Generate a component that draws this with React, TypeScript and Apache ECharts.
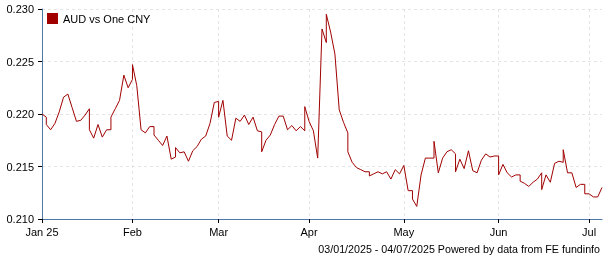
import React, { useEffect, useRef } from "react";
import * as echarts from "echarts";

// Weekly trading days from 03/01/2025 to 04/07/2025
const START_DATE = "2025-01-03";
const END_DATE = "2025-07-04";

// Month tick labels (first trading day of each month)
const monthLabels = ["Jan 25", "Feb", "Mar", "Apr", "May", "Jun", "Jul"];

// AUD vs One CNY, one entry per trading day; a pair = two readings on the same day
const ratesJan: (number | number[])[] = [
  0.2200, [0.2197, 0.2190], 0.2185, 0.2191, 0.2202, 0.2216, 0.2219, 0.2206, 0.2193, 0.2194,
  0.2199, [0.2205, 0.2185], 0.2177, 0.2190, 0.2178, 0.2185, [0.2185, 0.2197], 0.2205, 0.2213, 0.2237,
  0.2225,
];
const ratesFeb: (number | number[])[] = [
  [0.2233, 0.2247], 0.2227, 0.2185, 0.2182, 0.2188, [0.2188, 0.2180], 0.2175, 0.2170, 0.2179, 0.2157,
  [0.2159, 0.2168], 0.2163, 0.2164, 0.2155, 0.2165, 0.2169, 0.2176, 0.2179, 0.2191, 0.2211,
];
const ratesMar: (number | number[])[] = [
  [0.2212, 0.2197], 0.2213, 0.2179, 0.2175, 0.2196, 0.2193, 0.2199, 0.2190, 0.2197, 0.2184,
  [0.2183, 0.2164], 0.2175, 0.2180, 0.2190, 0.2198, 0.2198, 0.2185, 0.2189, 0.2184, 0.2188,
  [0.2184, 0.2207],
];
const ratesApr: (number | number[])[] = [
  0.2193, 0.2184, 0.2158, 0.2281, [0.2268, 0.2295], 0.2278, 0.2257, 0.2204, 0.2192, [0.2182, 0.2164],
  0.2154, 0.2149, 0.2147, 0.2145, [0.2145, 0.2141], 0.2143, 0.2145, 0.2143, 0.2145, 0.2138,
  0.2147, 0.2143,
];
const ratesMay: (number | number[])[] = [
  0.2151, 0.2127, [0.2127, 0.2119], 0.2112, 0.2142, 0.2158, 0.2158, [0.2158, 0.2174], 0.2144, 0.2158,
  0.2164, 0.2166, [0.2162, 0.2145], 0.2157, 0.2148, 0.2165, 0.2146, 0.2144, 0.2156, 0.2162,
  0.2159, 0.2160,
];
const ratesJun: (number | number[])[] = [
  [0.2160, 0.2142], 0.2152, 0.2144, 0.2140, 0.2142, [0.2142, 0.2136], 0.2134, 0.2131, 0.2135, 0.2138,
  [0.2144, 0.2128], 0.2142, 0.2135, 0.2153, 0.2155, [0.2154, 0.2166], 0.2144, 0.2144, 0.2130, 0.2133,
  [0.2133, 0.2124],
];
const ratesJul: (number | number[])[] = [0.2124, 0.2121, 0.2121, 0.2130];

const yTicks = { min: 0.21, max: 0.23, interval: 0.005 };

const footerText = "03/01/2025 - 04/07/2025 Powered by data from FE fundinfo";
const seriesName = "AUD vs One CNY";

function tradingDays(start: string, end: string): string[] {
  const out: string[] = [];
  const d = new Date(start + "T00:00:00Z");
  const e = new Date(end + "T00:00:00Z");
  while (d.getTime() <= e.getTime()) {
    const wd = d.getUTCDay();
    if (wd !== 0 && wd !== 6) out.push(d.toISOString().slice(0, 10));
    d.setUTCDate(d.getUTCDate() + 1);
  }
  return out;
}

const FONT = '"Liberation Sans", Arial, sans-serif';

export default function App() {
  const ref = useRef<HTMLDivElement>(null);
  useEffect(() => {
    if (!ref.current) return;
    document.body.style.margin = "0";
    const chart = echarts.init(ref.current, undefined, { renderer: "svg" });
    const dates = tradingDays(START_DATE, END_DATE);
    const allRates = [...ratesJan, ...ratesFeb, ...ratesMar, ...ratesApr, ...ratesMay, ...ratesJun, ...ratesJul];
    const data: [number, number][] = [];
    allRates.forEach((r, i) => {
      const vals = Array.isArray(r) ? r : [r];
      vals.forEach((v) => data.push([i, v]));
    });
    const monthOf = (s: string) => parseInt(s.slice(5, 7), 10);
    const isMonthStart = (i: number) => i === 0 || monthOf(dates[i]) !== monthOf(dates[i - 1]);
    const axisColor = "#4a78a8";
    const gridColor = "#e4e4e4";

    chart.setOption({
      animation: false,
      grid: { left: 42, right: 3, top: 9, bottom: 41, containLabel: false },
      legend: {
        left: 47,
        top: 13,
        padding: 0,
        itemWidth: 11,
        itemHeight: 11,
        itemGap: 5,
        icon: "rect",
        textStyle: { fontFamily: FONT, fontSize: 11, color: "#000" },
        data: [{ name: seriesName, icon: "rect", itemStyle: { color: "#a00000" } }],
      },
      xAxis: {
        type: "category",
        data: dates,
        boundaryGap: false,
        axisLine: { show: true, lineStyle: { color: axisColor, width: 1 } },
        axisTick: {
          show: true,
          length: 4,
          interval: (i: number) => isMonthStart(i),
          lineStyle: { color: "#000" },
        },
        axisLabel: {
          interval: (i: number) => isMonthStart(i),
          formatter: (v: string) => {
            const idx = dates.indexOf(v);
            if (idx === 0) return monthLabels[0];
            return monthLabels[monthOf(v) - 1];
          },
          fontFamily: FONT,
          fontSize: 11,
          color: "#000",
          margin: 7,
          hideOverlap: false,
        },
        splitLine: {
          show: true,
          interval: (i: number) => isMonthStart(i),
          lineStyle: { color: gridColor, type: [3, 3], width: 1 },
        },
      },
      yAxis: {
        type: "value",
        min: yTicks.min,
        max: yTicks.max,
        interval: yTicks.interval,
        axisLine: { show: true, lineStyle: { color: axisColor, width: 1 } },
        axisTick: { show: true, length: 4, lineStyle: { color: "#000" } },
        axisLabel: {
          formatter: (v: number) => v.toFixed(3),
          fontFamily: FONT,
          fontSize: 11,
          color: "#000",
          margin: 8,
        },
        splitLine: { show: true, lineStyle: { color: gridColor, type: [3, 3], width: 1 } },
      },
      series: [
        {
          name: seriesName,
          type: "line",
          data,
          showSymbol: false,
          symbol: "none",
          lineStyle: { color: "#a00000", width: 1 },
          itemStyle: { color: "#a00000" },
        },
      ],
      graphic: [
        {
          type: "text",
          right: 5,
          top: 243,
          style: { text: footerText, font: `10.7px ${FONT}`, fill: "#000" },
        },
      ],
    });
    return () => chart.dispose();
  }, []);
  return <div ref={ref} style={{ width: 605, height: 260, position: "fixed", left: 0, top: 0 }} />;
}
